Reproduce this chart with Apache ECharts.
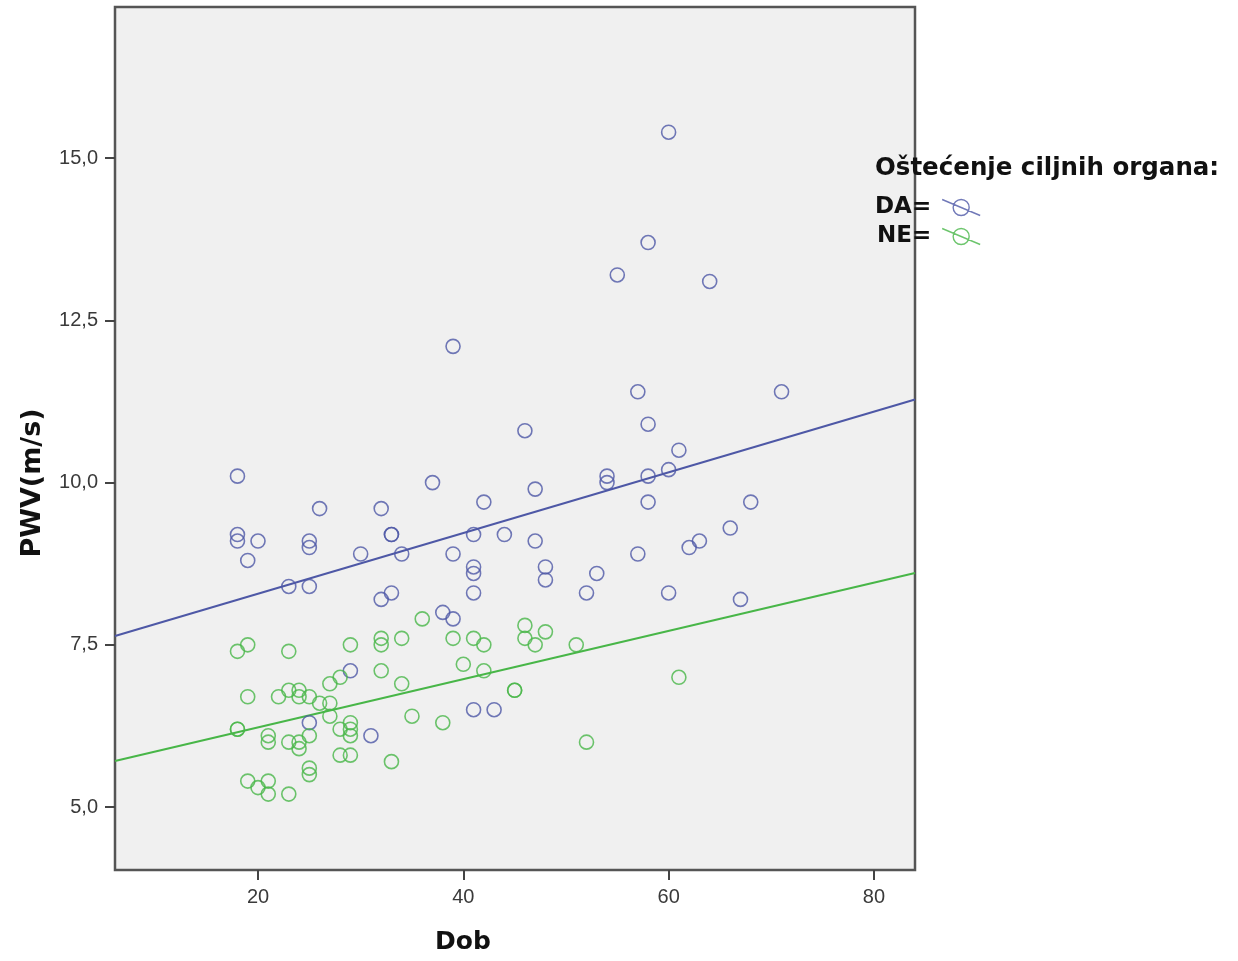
<!DOCTYPE html>
<html>
<head>
<meta charset="utf-8">
<script src="https://cdn.jsdelivr.net/npm/echarts@6/dist/echarts.min.js"></script>
<style>
html,body{margin:0;padding:0;background:#fff;}
#chart{width:1238px;height:961px;}
</style>
</head>
<body>
<div id="chart"></div>
<script>
// DA (Oštećenje ciljnih organa = DA)
const dobDA = [18,18,18,19,20,23,25,25,25,25,26,29,30,31,32,32,33,33,33,34,37,38,39,39,39,41,41,41,41,41,42,43,44,46,47,47,48,48,52,53,54,54,55,57,57,58,58,58,58,60,60,60,61,62,63,64,66,67,68,71];
const pwvDA = [10.1,9.2,9.1,8.8,9.1,8.4,9.1,9.0,8.4,6.3,9.6,7.1,8.9,6.1,9.6,8.2,9.2,9.2,8.3,8.9,10.0,8.0,12.1,8.9,7.9,9.2,8.7,8.6,8.3,6.5,9.7,6.5,9.2,10.8,9.9,9.1,8.7,8.5,8.3,8.6,10.1,10.0,13.2,11.4,8.9,13.7,10.9,10.1,9.7,15.4,10.2,8.3,10.5,9.0,9.1,13.1,9.3,8.2,9.7,11.4];
// NE
const dobNE = [18,18,18,19,19,19,20,21,21,21,21,22,23,23,23,23,24,24,24,24,25,25,25,25,26,27,27,27,28,28,28,29,29,29,29,29,32,32,32,33,34,34,35,36,38,39,40,41,42,42,45,45,46,46,47,48,51,52,61];
const pwvNE = [7.4,6.2,6.2,7.5,6.7,5.4,5.3,6.1,6.0,5.4,5.2,6.7,7.4,6.8,6.0,5.2,6.8,6.7,6.0,5.9,6.7,6.1,5.6,5.5,6.6,6.9,6.6,6.4,7.0,6.2,5.8,7.5,6.3,6.2,6.1,5.8,7.6,7.5,7.1,5.7,7.6,6.9,6.4,7.9,6.3,7.6,7.2,7.6,7.5,7.1,6.8,6.8,7.8,7.6,7.5,7.7,7.5,6.0,7.0];
// fit lines (at the axis ends)
const fitDA = [[6.07,7.635],[84,11.282]];
const fitNE = [[6.07,5.709],[84,8.606]];
// ticks
const xTicks = [20,40,60,80];
const yTicks = [5,7.5,10,12.5,15];

const blue = '#4e58a6';
const green = '#48b648';
const zip = (a,b) => a.map((v,i)=>[v,b[i]]);
const iconPath = 'path://M0,0 L38,16 M27,8 A8,8 0 1 1 11,8 A8,8 0 1 1 27,8 Z';

const chart = echarts.init(document.getElementById('chart'), null, {renderer:'canvas'});
chart.setOption({
  animation:false,
  backgroundColor:'#ffffff',
  title:{
    text:'Oštećenje ciljnih organa:',
    left:875, top:156, padding:0,
    textStyle:{fontFamily:'DejaVu Sans', fontWeight:'bold', fontSize:24.5, color:'#111'}
  },
  legend:{
    orient:'vertical', left:870, top:191, align:'right',
    itemWidth:38, itemHeight:16, itemGap:6,
    icon:iconPath,
    formatter:'{name}=',
    textStyle:{fontFamily:'DejaVu Sans', fontWeight:'bold', fontSize:23, color:'#111', lineHeight:22, padding:[0,6,0,0]},
    data:[
      {name:'DA', itemStyle:{color:'rgba(0,0,0,0)', borderColor:blue, borderWidth:1.4}},
      {name:'NE', itemStyle:{color:'rgba(0,0,0,0)', borderColor:green, borderWidth:1.4}}
    ]
  },
  grid:{left:115, right:323, top:7, bottom:91, containLabel:false, outerBoundsMode:'none',
    show:true, backgroundColor:'#f0f0f0', borderColor:'#555', borderWidth:2.5},
  xAxis:{
    type:'value', min:6.07, max:84,
    name:'Dob', nameLocation:'middle', nameGap:60,
    nameTextStyle:{fontFamily:'DejaVu Sans', fontWeight:'bold', fontSize:25, color:'#111', padding:[0,104,0,0]},
    axisLine:{show:false},
    axisTick:{show:true, customValues:xTicks, length:10, lineStyle:{color:'#444', width:2}},
    axisLabel:{customValues:xTicks, margin:17, fontFamily:'Liberation Sans', fontSize:20, color:'#3a3a3a'},
    splitLine:{show:false}
  },
  yAxis:{
    type:'value', min:4.03, max:17.33,
    name:'PWV(m/s)', nameLocation:'middle', nameGap:69, nameRotate:90,
    nameTextStyle:{fontFamily:'DejaVu Sans', fontWeight:'bold', fontSize:27, color:'#111', padding:[0,89,0,0]},
    axisLine:{show:false},
    axisTick:{show:true, customValues:yTicks, length:10, lineStyle:{color:'#444', width:2}},
    axisLabel:{customValues:yTicks, margin:17, fontFamily:'Liberation Sans', fontSize:20, color:'#3a3a3a',
      formatter:v=>v.toFixed(1).replace('.',',')},
    splitLine:{show:false}
  },
  series:[
    {name:'DA', type:'scatter', data:zip(dobDA,pwvDA), symbol:'circle', symbolSize:14,
      itemStyle:{color:'rgba(0,0,0,0)', borderColor:blue, borderWidth:1.6}, z:3},
    {name:'NE', type:'scatter', data:zip(dobNE,pwvNE), symbol:'circle', symbolSize:14,
      itemStyle:{color:'rgba(0,0,0,0)', borderColor:green, borderWidth:1.6}, z:3},
    {name:'DA fit', type:'line', data:fitDA, showSymbol:false, symbol:'none',
      lineStyle:{color:blue, width:2}, z:2},
    {name:'NE fit', type:'line', data:fitNE, showSymbol:false, symbol:'none',
      lineStyle:{color:green, width:2}, z:2}
  ]
});
</script>
</body>
</html>
